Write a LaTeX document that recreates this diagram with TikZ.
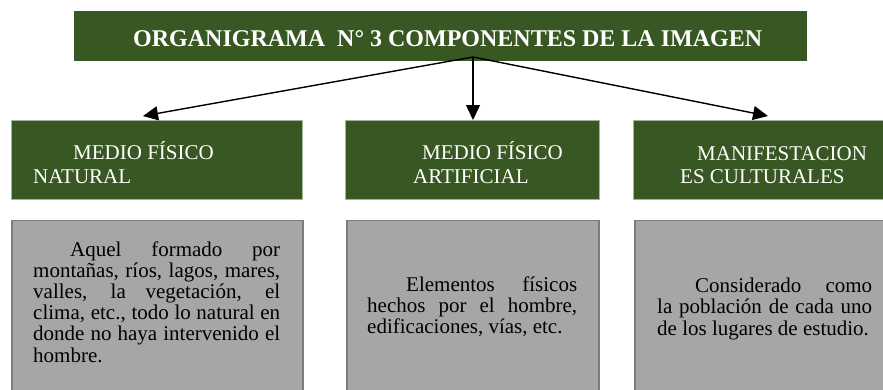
\documentclass[tikz,border=0pt]{standalone}
\usepackage{fontspec}
\setmainfont{Liberation Serif}
\usetikzlibrary{arrows.meta}
\definecolor{dkgreen}{RGB}{56,87,35}
\definecolor{greenedge}{RGB}{165,180,155}
\definecolor{boxgray}{RGB}{166,166,166}
\definecolor{grayedge}{RGB}{125,125,125}
\newcommand{\jline}[2][0pt]{\hspace*{#1}\makebox[\dimexpr\linewidth-#1\relax][s]{#2}\\}
\tikzset{
  greenbox/.style={draw=greenedge, line width=0.8pt, fill=dkgreen, inner sep=0pt, anchor=north west},
  graybox/.style={draw=grayedge, line width=1.6pt, fill=boxgray, inner sep=0pt, anchor=north west},
  gtext/.style={text=white, inner sep=0pt, anchor=base west, font=\fontsize{21}{24}\selectfont, align=left},
  ptext/.style={text=black, inner sep=0pt, anchor=base west},
  conn/.style={line width=1.4pt, -{Triangle[length=15pt,width=14pt]}}
}
\begin{document}
\begin{tikzpicture}[x=1pt,y=-1pt]
\useasboundingbox (0,0) rectangle (883,389);
\clip (0,0) rectangle (883,389);
% title
\node[fill=dkgreen, inner sep=0pt, minimum width=733pt, minimum height=50pt, anchor=north west] (title) at (74,11) {};
\node[text=white, inner sep=0pt, anchor=base west, font=\fontsize{24}{28}\selectfont\bfseries] (titletext) at (133,46) {ORGANIGRAMA\ \ N° 3 COMPONENTES DE LA IMAGEN};
% green boxes
\node[greenbox, minimum width=291pt, minimum height=79pt] (g1) at (11,120) {};
\node[greenbox, minimum width=254pt, minimum height=79pt] (g2) at (345,120) {};
\node[greenbox, minimum width=260pt, minimum height=79pt] (g3) at (633,120) {};
\node[gtext] (g1a) at (73,159) {MEDIO FÍSICO};
\node[gtext] (g1b) at (33,183) {NATURAL};
\node[gtext] (g2a) at (422,159) {MEDIO FÍSICO};
\node[gtext] (g2b) at (413,183) {ARTIFICIAL};
\node[gtext] (g3a) at (697,160) {MANIFESTACION};
\node[gtext] (g3b) at (680,183) {ES CULTURALES};
% gray boxes
\node[graybox, minimum width=291pt, minimum height=190pt] (b1) at (11,219.5) {};
\node[graybox, minimum width=252pt, minimum height=190pt] (b2) at (346,219.5) {};
\node[graybox, minimum width=260pt, minimum height=190pt] (b3) at (634,219.5) {};
\node[ptext] (t1) at (33,256) {\parbox[t]{247pt}{\fontsize{21}{21.2}\selectfont\noindent
\jline[37pt]{Aquel formado por}
\jline{montañas, ríos, lagos, mares,}
\jline{valles, la vegetación, el}
\jline{clima, etc., todo lo natural en}
\jline{donde no haya intervenido el}
hombre.}};
\node[ptext] (t2) at (367,291) {\parbox[t]{210pt}{\fontsize{21}{21.2}\selectfont\noindent
\jline[39pt]{Elementos físicos}
\jline{hechos por el hombre,}
edificaciones, vías, etc.}};
\node[ptext] (t3) at (657,292) {\parbox[t]{215pt}{\fontsize{21}{21.5}\selectfont\noindent
\jline[38pt]{Considerado como}
\jline{la población de cada uno}
de los lugares de estudio.}};
% connectors
\coordinate (src) at (473,57);
\coordinate (e1) at (143,116);
\coordinate (e2) at (473,120);
\coordinate (e3) at (768,116);
\draw[conn] (src) -- (e1);
\draw[conn] (src) -- (e2);
\draw[conn] (src) -- (e3);
\end{tikzpicture}
\end{document}
